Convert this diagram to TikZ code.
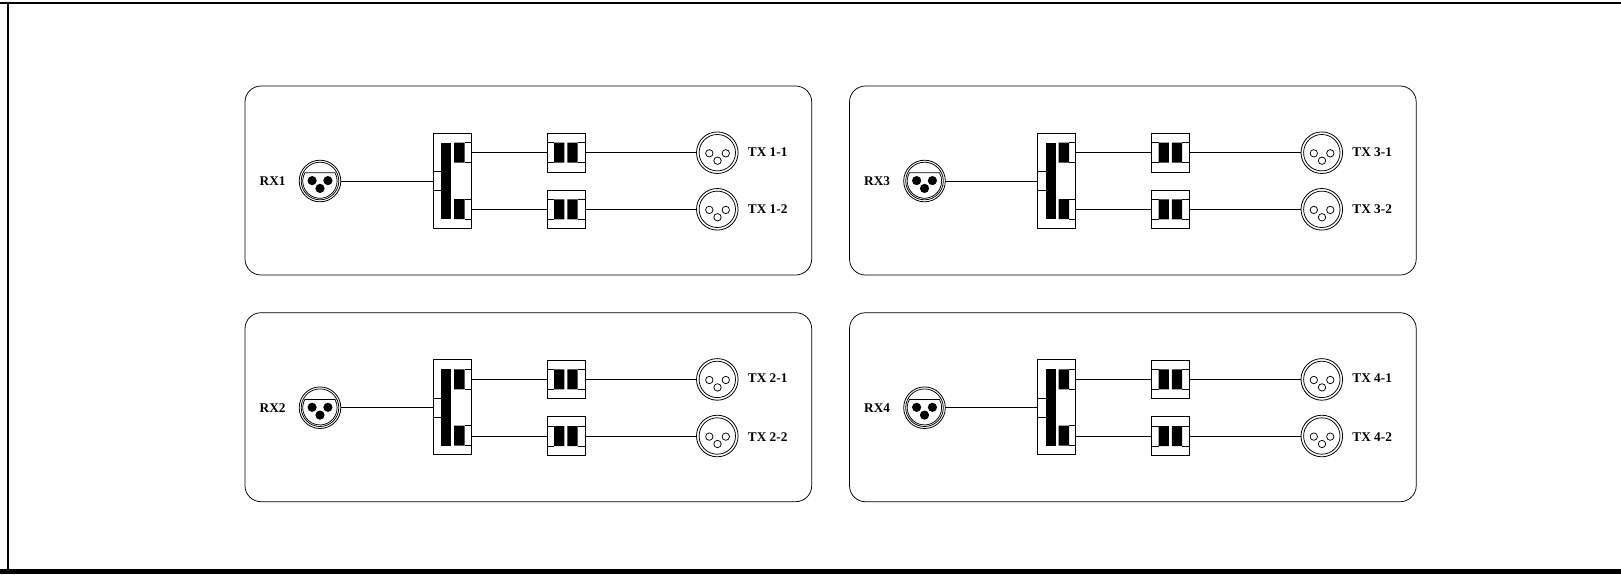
\documentclass[tikz,border=0pt]{standalone}
\usepackage{fontspec}
\setmainfont{Liberation Serif}
\tikzset{
  panel/.style={draw,line width=.75pt,rounded corners=16pt},
  wire/.style={draw,line width=.85pt},
  fine/.style={line width=.75pt},
  lbl/.style={font=\bfseries\fontsize{13.3}{14}\selectfont,inner sep=0pt,anchor=west},
  jack/.style={circle,draw,line width=.8pt,minimum size=41.6pt,inner sep=0pt,outer sep=0pt},
  boxa/.style={rectangle,draw,line width=.85pt,minimum width=38pt,minimum height=95pt,inner sep=0pt,outer sep=0pt},
  boxb/.style={rectangle,draw,line width=.85pt,minimum width=38pt,minimum height=38.5pt,inner sep=0pt,outer sep=0pt}
}
\newcommand{\tapunit}[8]{%
\begin{scope}[shift={(#1,#2)}]
  \node[panel,rectangle,minimum width=566.7pt,minimum height=189pt,inner sep=0pt,outer sep=0pt] (#3panel) at (528.35,-180.5) {};
  \node[lbl] (#3rxl) at (259.5,-181.5) {#4};
  \node[jack] (#3rx) at (320,-181) {};
  \draw[fine] (#3rx) circle (18.8);
  \draw[fine] (304.9,-172.7) arc (151:389:17.2) -- cycle;
  \fill (312.1,-180.6) circle (4.6) (327.9,-180.6) circle (4.6) (320,-188.4) circle (4.6);
  \node[boxa] (#3sp) at (452,-180.7) {};
  \fill (441,-142.7) rectangle (451,-219);
  \fill (454,-142.7) rectangle (464.5,-162.7) (454,-199) rectangle (464.5,-219);
  \draw[fine] (464.5,-142.7) -- (#3sp.east |- 0,-142.7) (464.5,-162.7) -- (#3sp.east |- 0,-162.7);
  \draw[fine] (464.5,-199) -- (#3sp.east |- 0,-199) (464.5,-219) -- (#3sp.east |- 0,-219);
  \draw[fine] (#3sp.west |- 0,-171.7) -- (441,-171.7) (#3sp.west |- 0,-190.7) -- (441,-190.7);
  \foreach \n/\y/\t/\o in {a/-152.7/#5/#7,b/-209.3/#6/#8}{
    \node[boxb] (#3f\n) at (566,\y) {};
    \fill (554,\y+10) rectangle (564.3,\y-10) (567.4,\y+10) rectangle (577.7,\y-10);
    \draw[fine] (#3f\n.west |- 0,\y+10) -- (554,\y+10) (#3f\n.west |- 0,\y-10) -- (554,\y-10);
    \draw[fine] (577.7,\y+10) -- (#3f\n.east |- 0,\y+10) (577.7,\y-10) -- (#3f\n.east |- 0,\y-10);
    \node[jack] (#3t\n) at (717.3,\y) {};
    \draw[fine] (#3t\n) circle (18.2);
    \draw[fine] (709.3,\y-.6) circle (3.7) (725.8,\y-.6) circle (3.7) (717.5,\y-8) circle (3.7);
    \node[lbl] (#3l\n) at (747.7,\y+\o) {\t};
    \draw[wire] (#3sp.east |- #3f\n) -- (#3f\n.west);
    \draw[wire] (#3f\n.east) -- (#3t\n.west);
  }
  \draw[wire] (#3rx.east) -- (#3sp.west |- #3rx);
\end{scope}}
\begin{document}
\begin{tikzpicture}[x=1pt,y=1pt]
\useasboundingbox (0,0) rectangle (1621,-574);
\fill (0,-1.8) rectangle (1621,-3.9);
\fill (7,-2) rectangle (9,-570);
\fill (0,-569.3) rectangle (1621,-574);
\tapunit{0}{0}{p}{RX1}{TX 1-1}{TX 1-2}{.8}{0}
\tapunit{604.5}{0}{q}{RX3}{TX 3-1}{TX 3-2}{.8}{0}
\tapunit{0}{-226.7}{r}{RX2}{TX 2-1}{TX 2-2}{1.8}{-.7}
\tapunit{604.5}{-226.7}{s}{RX4}{TX 4-1}{TX 4-2}{1.8}{-.7}
\end{tikzpicture}
\end{document}
